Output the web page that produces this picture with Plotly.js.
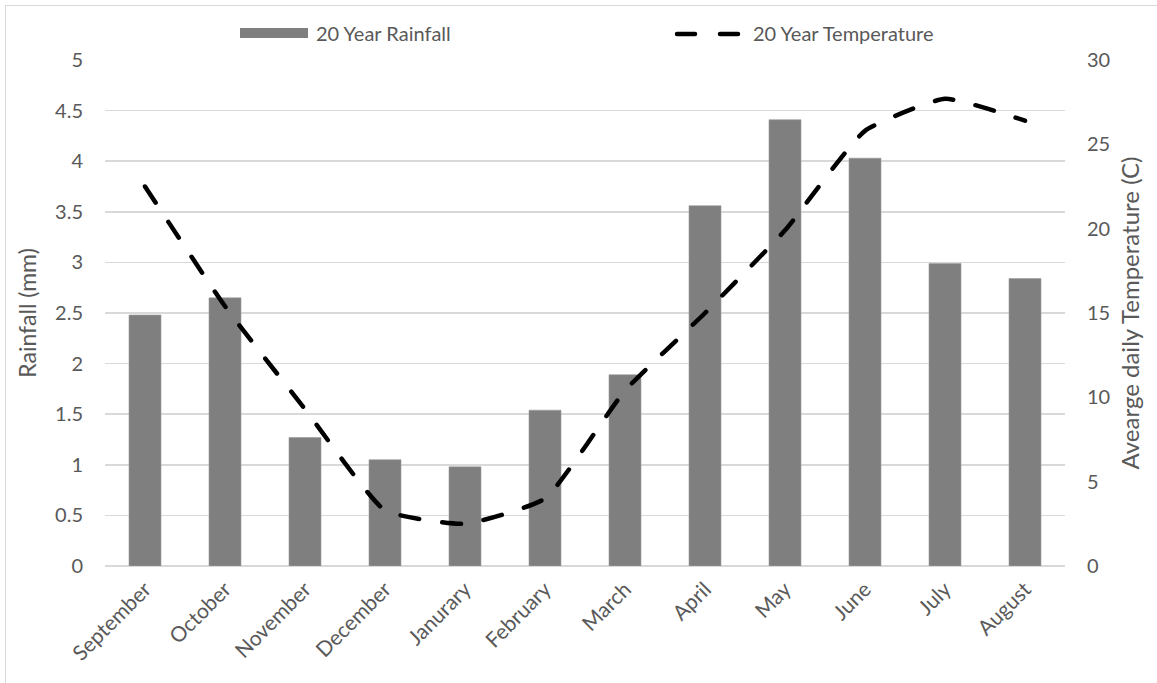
<!DOCTYPE html>
<html>
<head>
<meta charset="utf-8">
<script src="https://cdn.plot.ly/plotly-3.0.1.min.js"></script>
<style>
  html, body { margin: 0; padding: 0; background: #ffffff; overflow: hidden; }
  #wrap { position: relative; width: 1157px; height: 683px; }
  #chart { position: absolute; left: 0; top: 0; width: 1157px; height: 683px; }
  #frame { position: absolute; left: 5px; top: 5px; width: 1170px; height: 700px;
           border: 1px solid #d9d9d9; pointer-events: none; box-sizing: border-box; }
  .js-line, .shapelayer path { stroke-linecap: round; }
</style>
</head>
<body>
<div id="wrap">
  <div id="chart"></div>
  <div id="frame"></div>
</div>
<script>
// Months of the hydrological year, September through August
const months = ['September', 'October', 'November', 'December', 'Janurary', 'February',
                'March', 'April', 'May', 'June', 'July', 'August'];

// 20-year mean rainfall (mm)
const rainfall = [2.48, 2.65, 1.27, 1.05, 0.98, 1.54, 1.89, 3.56, 4.41, 4.03, 2.99, 2.84];

// 20-year mean daily temperature (C)
const temperature = [22.5, 15.4, 9.3, 3.3, 2.5, 4.0, 10.4, 15.0, 19.9, 25.8, 27.7, 26.4];

const rainName = '20 Year Rainfall';
const tempName = '20 Year Temperature';

const W = 1157, H = 683;
const M = { l: 105, r: 92, t: 60, b: 117 };
const plotW = W - M.l - M.r;
const plotH = H - M.t - M.b;
const px = x => (x - M.l) / plotW;          // pixel -> paper x
const py = y => 1 - (y - M.t) / plotH;      // pixel -> paper y

const txt = '#595959';
const grid = '#d9d9d9';
const FONT = 'Lato, "Open Sans", sans-serif';

const traces = [
  {
    type: 'bar',
    name: rainName,
    x: months,
    y: rainfall,
    marker: { color: '#7f7f7f', line: { color: '#9a9a9a', width: 0.6 } },
    yaxis: 'y',
    hoverinfo: 'x+y'
  },
  {
    type: 'scatter',
    mode: 'lines',
    name: tempName,
    x: months,
    y: temperature,
    yaxis: 'y2',
    line: { color: '#000000', width: 4.5, dash: '19px,23px', shape: 'spline', smoothing: 0.45 },
    hoverinfo: 'x+y'
  }
];

// Hand-drawn legend swatches along the top
const shapes = [
  { type: 'rect', xref: 'paper', yref: 'paper',
    x0: px(240), x1: px(308), y0: py(38), y1: py(28),
    fillcolor: '#7f7f7f', line: { width: 0 } },
  { type: 'line', xref: 'paper', yref: 'paper',
    x0: px(677), x1: px(695), y0: py(34), y1: py(34),
    line: { color: '#000000', width: 4.5 } },
  { type: 'line', xref: 'paper', yref: 'paper',
    x0: px(720), x1: px(738), y0: py(34), y1: py(34),
    line: { color: '#000000', width: 4.5 } }
];

const annotations = [
  { xref: 'paper', yref: 'paper', x: px(314), y: py(33), xanchor: 'left', yanchor: 'middle',
    text: rainName, showarrow: false, font: { family: FONT, size: 20, color: txt } },
  { xref: 'paper', yref: 'paper', x: px(751), y: py(33), xanchor: 'left', yanchor: 'middle',
    text: tempName, showarrow: false, font: { family: FONT, size: 20, color: txt } }
];

const layout = {
  width: W,
  height: H,
  margin: M,
  paper_bgcolor: '#ffffff',
  plot_bgcolor: '#ffffff',
  showlegend: false,
  bargap: 0.6,
  font: { family: FONT, size: 20, color: txt },
  xaxis: {
    type: 'category',
    tickangle: -45,
    showgrid: false,
    showline: false,
    zeroline: false,
    ticks: '',
    ticklabelstandoff: 6,
    tickfont: { family: FONT, size: 21, color: txt },
    automargin: false
  },
  yaxis: {
    range: [0, 5],
    dtick: 0.5,
    tick0: 0,
    showgrid: true,
    gridcolor: grid,
    gridwidth: 1.5,
    zeroline: true,
    zerolinecolor: grid,
    zerolinewidth: 1.5,
    showline: false,
    ticks: '',
    ticklabelstandoff: 21,
    tickfont: { family: FONT, size: 20, color: txt },
    title: { text: 'Rainfall (mm)', font: { family: FONT, size: 23, color: txt }, standoff: 12 },
    automargin: false
  },
  yaxis2: {
    overlaying: 'y',
    side: 'right',
    range: [0, 30],
    dtick: 5,
    tick0: 0,
    showgrid: false,
    zeroline: false,
    showline: false,
    ticks: '',
    ticklabelstandoff: 21,
    tickfont: { family: FONT, size: 20, color: txt },
    title: { text: 'Avearge daily Temperature (C)', font: { family: FONT, size: 24, color: txt }, standoff: 12 },
    automargin: false
  },
  shapes: shapes,
  annotations: annotations
};

Plotly.newPlot('chart', traces, layout, { staticPlot: true, displayModeBar: false });
</script>
</body>
</html>
